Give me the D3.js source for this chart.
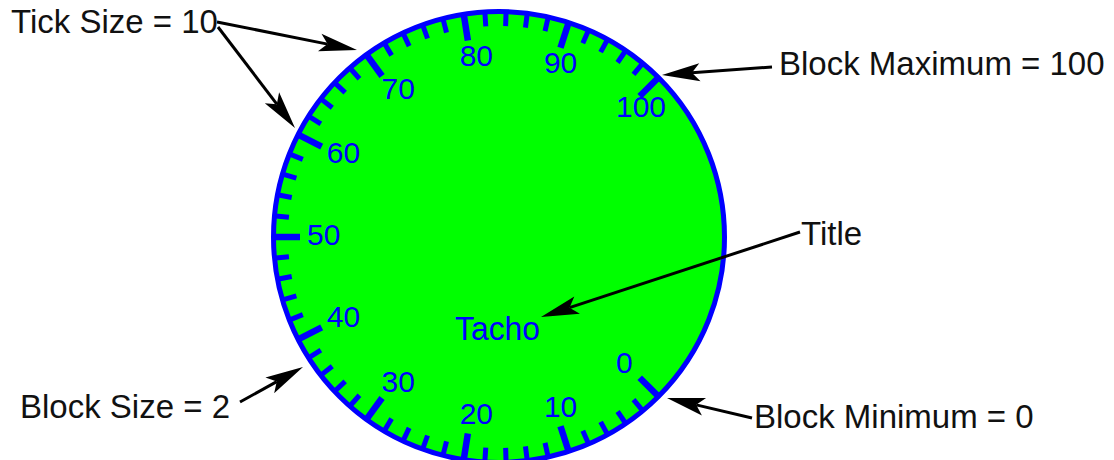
<!DOCTYPE html>
<html>
<head>
<meta charset="utf-8">
<script src="https://cdn.jsdelivr.net/npm/d3@7"></script>
<style>
  html, body { margin: 0; padding: 0; background: #fff; }
  svg { display: block; }
</style>
</head>
<body>
<svg id="chart" width="1114" height="460"></svg>
<script>
// ---- data ----
const blockMinimum = 0;
const blockMaximum = 100;
const blockSize = 2;
const tickSize = 10;
const blockValues = [0,2,4,6,8,10,12,14,16,18,20,22,24,26,28,30,32,34,36,38,40,
  42,44,46,48,50,52,54,56,58,60,62,64,66,68,70,72,74,76,78,80,82,84,86,88,90,
  92,94,96,98,100];
const tickLabels = [0,10,20,30,40,50,60,70,80,90,100];
const title = "Tacho";
const annotationTexts = ["Tick Size = 10", "Block Maximum = 100", "Title",
  "Block Minimum = 0", "Block Size = 2"];

// ---- layout ----
const svg = d3.select("#chart");
const cx = 499, cy = 237;
const outerR = 228;
const font = "'Liberation Sans', Arial, Helvetica, sans-serif";

// value -> angle (degrees clockwise from top)
const angle = d3.scaleLinear().domain([blockMinimum, blockMaximum]).range([135, 405]);
const rad = d => angle(d) * Math.PI / 180;
const px = (d, r) => cx + r * Math.sin(rad(d));
const py = (d, r) => cy - r * Math.cos(rad(d));

// dial face
svg.append("circle")
  .attr("cx", cx).attr("cy", cy).attr("r", outerR - 2.5)
  .attr("fill", "#00ff00")
  .attr("stroke", "#0000ff")
  .attr("stroke-width", 5);

// ticks
const isMajor = d => (d - blockMinimum) % tickSize === 0;
svg.append("g").selectAll("line")
  .data(blockValues)
  .join("line")
  .attr("x1", d => px(d, outerR - 1))
  .attr("y1", d => py(d, outerR - 1))
  .attr("x2", d => px(d, isMajor(d) ? outerR - 29 : outerR - 17))
  .attr("y2", d => py(d, isMajor(d) ? outerR - 29 : outerR - 17))
  .attr("stroke", "#0000ff")
  .attr("stroke-width", d => isMajor(d) ? 6.5 : 5);

// tick labels
const labelR = 181;
svg.append("g").selectAll("text")
  .data(tickLabels)
  .join("text")
  .attr("x", d => cx - 11 + labelR * Math.sin(rad(d)))
  .attr("y", d => cy - 2.5 - labelR * Math.cos(rad(d)) + 10.7)
  .attr("text-anchor", "start")
  .attr("font-family", font)
  .attr("font-size", 30)
  .attr("fill", "#0000ff")
  .text(d => d);

// title
svg.append("text")
  .attr("x", cx - 1.5).attr("y", cy + 103)
  .attr("text-anchor", "middle")
  .attr("font-family", font)
  .attr("font-size", 34)
  .attr("textLength", 85)
  .attr("lengthAdjust", "spacingAndGlyphs")
  .attr("fill", "#0000ff")
  .text(title);

// annotations (positions are layout)
const annPos = [[11, 33], [779, 75], [801, 245], [754, 428], [20, 418]];
svg.append("g").selectAll("text")
  .data(annotationTexts)
  .join("text")
  .attr("x", (d, i) => annPos[i][0])
  .attr("y", (d, i) => annPos[i][1])
  .attr("font-family", font)
  .attr("font-size", 33)
  .attr("fill", "#111")
  .text(d => d);

// arrows
const arrows = [
  [[217, 22], [357, 50]],
  [[218, 27], [295, 128]],
  [[772, 67], [662, 75]],
  [[800, 232], [541, 317]],
  [[752, 418], [667, 398]],
  [[240, 402], [303, 367]]
];
const headLen = 38, headHalf = 9, notch = 8;
const ag = svg.append("g");
arrows.forEach(([a, b]) => {
  const dx = b[0] - a[0], dy = b[1] - a[1];
  const L = Math.hypot(dx, dy);
  const ux = dx / L, uy = dy / L;
  const nx = -uy, ny = ux;
  const bx = b[0] - ux * headLen, by = b[1] - uy * headLen;
  ag.append("line")
    .attr("x1", a[0]).attr("y1", a[1])
    .attr("x2", b[0] - ux * (headLen - notch)).attr("y2", b[1] - uy * (headLen - notch))
    .attr("stroke", "#000").attr("stroke-width", 3);
  const pts = [
    [b[0], b[1]],
    [bx + nx * headHalf, by + ny * headHalf],
    [b[0] - ux * (headLen - notch), b[1] - uy * (headLen - notch)],
    [bx - nx * headHalf, by - ny * headHalf]
  ];
  ag.append("path")
    .attr("d", d3.line()(pts) + "Z")
    .attr("fill", "#000");
});
</script>
</body>
</html>
